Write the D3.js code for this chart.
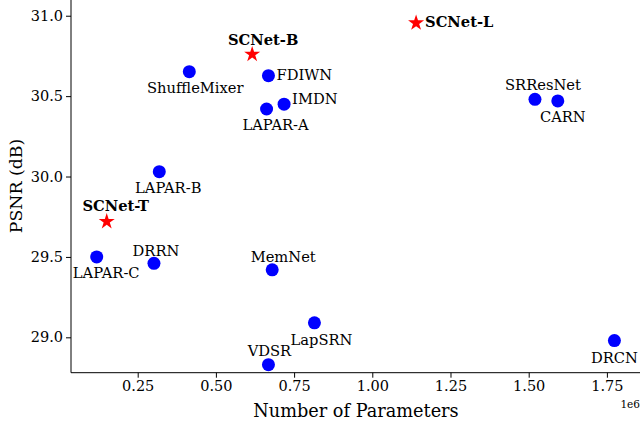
<!DOCTYPE html>
<html>
<head>
<meta charset="utf-8">
<script src="https://cdn.jsdelivr.net/npm/d3@7"></script>
<style>
  body { margin: 0; background: #fff; }
  text { font-family: "DejaVu Serif", serif; }
</style>
</head>
<body>
<svg></svg>
<script>
const width = 640;
const height = 421;
const font = '"DejaVu Serif", serif';

// models, parameter counts and PSNR
const names = ['SCNet-T', 'SCNet-B', 'SCNet-L', 'ShuffleMixer', 'FDIWN', 'IMDN', 'LAPAR-A',
               'LAPAR-B', 'LAPAR-C', 'DRRN', 'MemNet', 'LapSRN', 'VDSR', 'SRResNet', 'CARN', 'DRCN'];
const params = [151000, 616000, 1140000, 415000, 668000, 718000, 662000,
                319000, 119000, 302000, 680000, 815000, 668000, 1520000, 1593000, 1774000];
const psnr = [29.72, 30.76, 30.955, 30.652, 30.627, 30.45, 30.42,
              30.03, 29.50, 29.46, 29.42, 29.09, 28.83, 30.48, 30.47, 28.98];
const ours = ['SCNet-T', 'SCNet-B', 'SCNet-L'];

const xTicks = [250000, 500000, 750000, 1000000, 1250000, 1500000, 1750000];
const yTicks = [29.0, 29.5, 30.0, 30.5, 31.0];

const nodes = names.map((n, i) => ({name: n, x: params[i], y: psnr[i], ours: ours.includes(n)}));

// where each label sits relative to its marker: [dx, dy, anchor]
const labelPos = {
  'SCNet-T': [9, -11, 'middle'],
  'SCNet-B': [11, -9, 'middle'],
  'SCNet-L': [9, 4.5, 'start'],
  'ShuffleMixer': [6, 21, 'middle'],
  'FDIWN': [8, 4.5, 'start'],
  'IMDN': [8, 0, 'start'],
  'LAPAR-A': [9, 21, 'middle'],
  'LAPAR-B': [9, 21.5, 'middle'],
  'LAPAR-C': [9.5, 21, 'middle'],
  'DRRN': [2, -7.5, 'middle'],
  'MemNet': [11, -7.5, 'middle'],
  'LapSRN': [7, 22, 'middle'],
  'VDSR': [1, -8.5, 'middle'],
  'SRResNet': [8, -9.5, 'middle'],
  'CARN': [5, 21, 'middle'],
  'DRCN': [0, 22.5, 'middle']
};

const left = 71, bottom = 372.7, right = 642;

const x = d3.scaleLinear()
  .domain([36800, 1862200])
  .range([left, right]);

const y = d3.scaleLinear()
  .domain([28.78, 31.16])
  .range([bottom, -10]);

const svg = d3.select('svg')
  .attr('width', width)
  .attr('height', height);

svg.append('g')
  .attr('transform', `translate(0,${bottom})`)
  .call(d3.axisBottom(x).tickValues(xTicks).tickSize(5).tickPadding(3)
          .tickFormat(d => d3.format('.2f')(d / 1e6)))
  .call(g => g.select('.domain').attr('d', `M${left},0H${right}`))
  .call(g => g.attr('font-family', null).attr('font-size', null))
  .call(g => g.selectAll('text').style('font-size', '14.5px').attr('fill', '#000')
                .style('font-family', font));

svg.append('g')
  .attr('transform', `translate(${left},0)`)
  .call(d3.axisLeft(y).tickValues(yTicks).tickSize(5).tickPadding(3)
          .tickFormat(d3.format('.1f')))
  .call(g => g.select('.domain').attr('d', `M0,${bottom}V-10`))
  .call(g => g.attr('font-family', null).attr('font-size', null))
  .call(g => g.selectAll('text').style('font-size', '14.5px').attr('fill', '#000')
                .style('font-family', font));

svg.append('text')
  .attr('x', 356)
  .attr('y', 417)
  .attr('text-anchor', 'middle')
  .style('font-family', font)
  .style('font-size', '17.7px')
  .text('Number of Parameters');

svg.append('text')
  .attr('transform', 'translate(22,186) rotate(-90)')
  .attr('text-anchor', 'middle')
  .style('font-family', font)
  .style('font-size', '17.3px')
  .text('PSNR (dB)');

svg.append('text')
  .attr('x', 640)
  .attr('y', 408)
  .attr('text-anchor', 'end')
  .style('font-family', font)
  .style('font-size', '10.5px')
  .text('1e6');

// markers
svg.selectAll('circle.pt')
  .data(nodes.filter(d => !d.ours))
  .enter()
  .append('circle')
    .classed('pt', true)
    .attr('cx', d => x(d.x))
    .attr('cy', d => y(d.y))
    .attr('r', 6.5)
    .style('fill', '#0000ff');

svg.selectAll('path.star')
  .data(nodes.filter(d => d.ours))
  .enter()
  .append('path')
    .classed('star', true)
    .attr('d', d3.symbol().type(d3.symbolStar).size(80))
    .attr('transform', d => `translate(${x(d.x)},${y(d.y)})`)
    .style('fill', '#ff0000');

// labels
svg.selectAll('text.lbl')
  .data(nodes)
  .enter()
  .append('text')
    .classed('lbl', true)
    .attr('x', d => x(d.x) + labelPos[d.name][0])
    .attr('y', d => y(d.y) + labelPos[d.name][1])
    .attr('text-anchor', d => labelPos[d.name][2])
    .style('font-family', font)
    .style('font-size', '14.7px')
    .style('font-weight', d => d.ours ? 'bold' : 'normal')
    .text(d => d.name);
</script>
</body>
</html>
